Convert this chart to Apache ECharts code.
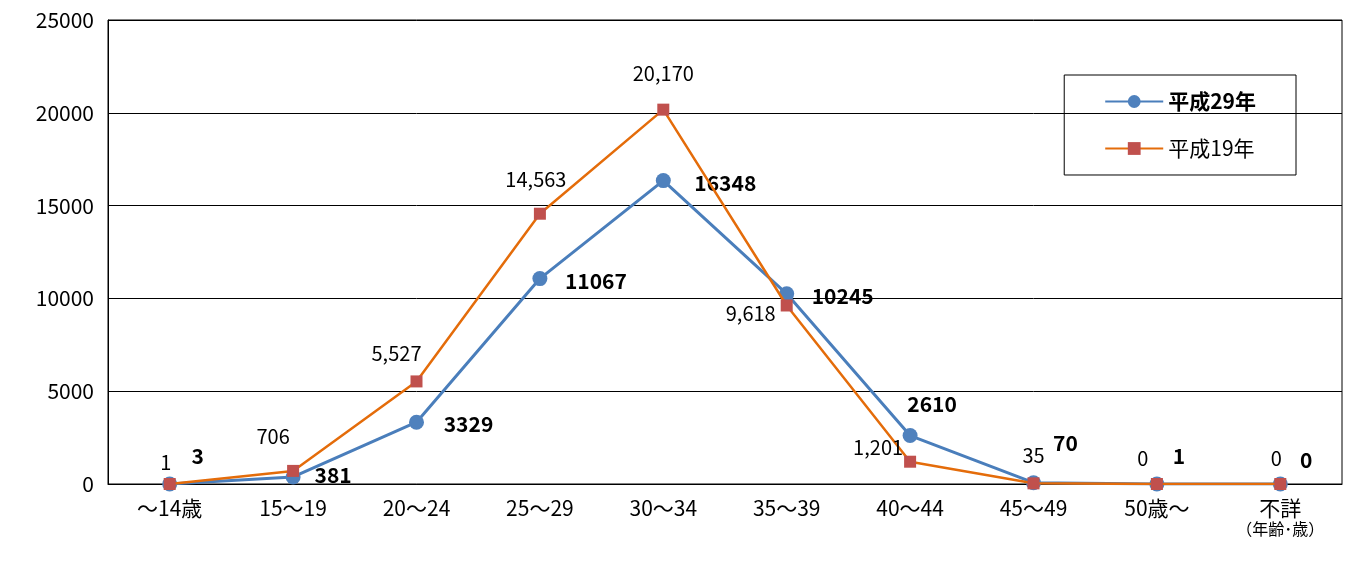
<!DOCTYPE html>
<html><head><meta charset="utf-8">
<script src="https://cdn.jsdelivr.net/npm/echarts@6/dist/echarts.min.js"></script>
<style>body{margin:0;background:#fff}#c{width:1367px;height:563px}</style>
</head><body><div id="c"></div>
<script>
var categories = ['～14歳','15～19','20～24','25～29','30～34','35～39','40～44','45～49','50歳～','不詳'];
var h29 = [3, 381, 3329, 11067, 16348, 10245, 2610, 70, 1, 0];
var h19 = [1, 706, 5527, 14563, 20170, 9618, 1201, 35, 0, 0];

// label offsets per point (display only)
var off29 = [[28,-28],[40,-2],[52,2],[56,2],[62,2],[56,2],[22,-32],[32,-40],[22,-28],[26,-24]];
var off19 = [[-4,-22],[-20,-34],[-20,-28],[-4,-34],[0,-36],[-36,8],[-32,-14],[0,-28],[-14,-26],[-4,-26]];
var fontF = '"Noto Sans CJK JP", "Liberation Sans", sans-serif';

var chart = echarts.init(document.getElementById('c'));
chart.setOption({
  animation: false,
  grid: {left: 108, right: 25, top: 20, bottom: 79, show: true, borderColor: '#000', borderWidth: 1},
  legend: {
    orient: 'vertical', right: 71, top: 75, itemGap: 26,
    padding: [16, 40, 16, 40], borderColor: '#000', borderWidth: 1,
    itemWidth: 58, itemHeight: 16,
    textStyle: {fontSize: 21, color: '#000', fontFamily: fontF},
    data: [{name: '平成29年', textStyle: {fontWeight: 'bold'}}, {name: '平成19年'}]
  },
  xAxis: {
    type: 'category', data: categories, boundaryGap: true,
    axisLine: {lineStyle: {color: '#000'}}, axisTick: {show: false},
    axisLabel: {
      color: '#000', fontSize: 21, fontFamily: fontF, margin: 14, interval: 0,
      formatter: function (v) { return v === '不詳' ? '不詳\n{s|（年齢･歳）}' : v; },
      rich: {s: {fontSize: 16, fontFamily: fontF, color: '#000', lineHeight: 20}}
    }
  },
  yAxis: {
    type: 'value', min: 0, max: 25000, interval: 5000,
    axisLine: {show: true, lineStyle: {color: '#000'}}, axisTick: {show: false},
    splitLine: {lineStyle: {color: '#000', width: 1}},
    axisLabel: {color: '#000', fontSize: 21, fontFamily: fontF, margin: 14, formatter: function (v) { return String(v); }}
  },
  series: [
    {
      name: '平成29年', type: 'line', z: 3,
      symbol: 'circle', symbolSize: 15,
      lineStyle: {color: '#4A7EBB', width: 3},
      itemStyle: {color: '#4F81BD'},
      data: h29.map(function (v, i) {
        return {value: v, label: {show: true, offset: off29[i], position: 'inside',
          formatter: String(v), fontWeight: 'bold', fontSize: 21, color: '#000', fontFamily: fontF}};
      })
    },
    {
      name: '平成19年', type: 'line', z: 4,
      symbol: 'rect', symbolSize: 12,
      lineStyle: {color: '#E46C0A', width: 2.5},
      itemStyle: {color: '#C0504D'},
      data: h19.map(function (v, i) {
        return {value: v, label: {show: true, offset: off19[i], position: 'inside',
          formatter: v.toLocaleString('en-US'), fontSize: 20, color: '#000', fontFamily: fontF}};
      })
    }
  ]
});
</script></body></html>
